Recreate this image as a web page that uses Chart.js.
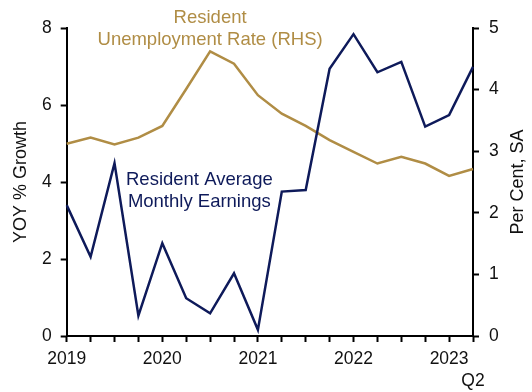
<!DOCTYPE html>
<html>
<head>
<meta charset="utf-8">
<script src="https://cdn.jsdelivr.net/npm/chart.js@4"></script>
<style>
  html, body { margin: 0; padding: 0; background: #fff; }
  #wrap { width: 532px; height: 392px; }
</style>
</head>
<body>
<div id="wrap"><canvas id="chart" width="532" height="392"></canvas></div>
<script>
// quarterly data, 2019 Q1 .. 2023 Q2
const quarters = ['2019 Q1', '2019 Q2', '2019 Q3', '2019 Q4',
                  '2020 Q1', '2020 Q2', '2020 Q3', '2020 Q4',
                  '2021 Q1', '2021 Q2', '2021 Q3', '2021 Q4',
                  '2022 Q1', '2022 Q2', '2022 Q3', '2022 Q4',
                  '2023 Q1', '2023 Q2'];
const earnings = [3.40, 2.06, 4.49, 0.53, 2.41, 0.98, 0.59, 1.63, 0.16,
                  3.75, 3.79, 6.94, 7.84, 6.85, 7.12, 5.44, 5.74, 6.99];
const unemployment = [3.12, 3.22, 3.11, 3.22, 3.41, 4.01, 4.62, 4.42, 3.91,
                      3.61, 3.41, 3.18, 2.99, 2.80, 2.91, 2.80, 2.60, 2.71];

const navy = '#0e1a5a';
const gold = '#b08d45';
const font = 'Liberation Sans, Arial, sans-serif';

// text labels placed in data units (x = quarter index, y = left axis value)
const notes = [
    {lines: ['Resident', 'Unemployment Rate (RHS)'], x: 6.0, y: 8.27, color: gold},
    {lines: ['Resident Average', 'Monthly Earnings'], x: 5.55, y: 4.05, color: navy}
];

const labelPlugin = {
    id: 'labels',
    afterDraw(chart) {
        const ctx = chart.ctx;
        const xs = chart.scales.x, ys = chart.scales.y;
        const area = chart.chartArea;
        ctx.save();
        ctx.textAlign = 'center';
        ctx.textBaseline = 'middle';
        ctx.font = '18.5px ' + font;
        notes.forEach(n => {
            const px = xs.getPixelForValue(n.x);
            const py = ys.getPixelForValue(n.y);
            ctx.fillStyle = n.color;
            n.lines.forEach((t, i) => ctx.fillText(t, px, py + i * 22));
        });

        // axis titles, both reading bottom to top
        const midY = (area.top + area.bottom) / 2;
        ctx.fillStyle = '#111';
        ctx.font = '18px ' + font;
        [['YOY % Growth', 21], ['Per Cent, SA', 518]].forEach(([t, x]) => {
            ctx.save();
            ctx.translate(x, midY);
            ctx.rotate(-Math.PI / 2);
            ctx.fillText(t, 0, 0);
            ctx.restore();
        });
        ctx.restore();
    }
};

const axisGrid = {
    display: true,
    drawOnChartArea: false,
    drawTicks: true,
    tickLength: 6,
    tickWidth: 2,
    color: '#000'
};
const axisBorder = {display: true, color: '#000', width: 2};

new Chart('chart', {
    type: 'line',
    data: {
        labels: quarters,
        datasets: [{
            label: 'Resident Average Monthly Earnings',
            data: earnings,
            yAxisID: 'y',
            borderColor: navy,
            borderWidth: 2.5,
            pointRadius: 0,
            tension: 0,
            order: 0
        }, {
            label: 'Resident Unemployment Rate (RHS)',
            data: unemployment,
            yAxisID: 'y2',
            borderColor: gold,
            borderWidth: 2.5,
            pointRadius: 0,
            tension: 0,
            order: 1
        }]
    },
    options: {
        responsive: false,
        animation: false,
        layout: {padding: {top: 28, left: 0, right: 0, bottom: 0}},
        plugins: {
            legend: {display: false},
            tooltip: {enabled: false}
        },
        scales: {
            x: {
                type: 'category',
                offset: false,
                grid: axisGrid,
                border: axisBorder,
                afterFit: (s) => { s.height = 56; },
                ticks: {
                    autoSkip: false,
                    maxRotation: 0,
                    padding: 6,
                    color: '#111',
                    font: {family: font, size: 17.5, lineHeight: 1.25},
                    callback: function (v, i) {
                        const q = quarters[i];
                        if (i === quarters.length - 1) return ['', q.split(' ')[1]];
                        return q.endsWith('Q1') ? q.split(' ')[0] : '';
                    }
                }
            },
            y: {
                position: 'left',
                min: 0,
                max: 8,
                grid: axisGrid,
                border: axisBorder,
                afterFit: (s) => { s.width = 66.7; },
                ticks: {
                    stepSize: 2,
                    padding: 9,
                    color: '#111',
                    font: {family: font, size: 17.5}
                }
            },
            y2: {
                position: 'right',
                min: 0,
                max: 5,
                grid: axisGrid,
                border: axisBorder,
                afterFit: (s) => { s.width = 59; },
                ticks: {
                    stepSize: 1,
                    padding: 10,
                    color: '#111',
                    font: {family: font, size: 17.5}
                }
            }
        }
    },
    plugins: [labelPlugin]
});
</script>
</body>
</html>
